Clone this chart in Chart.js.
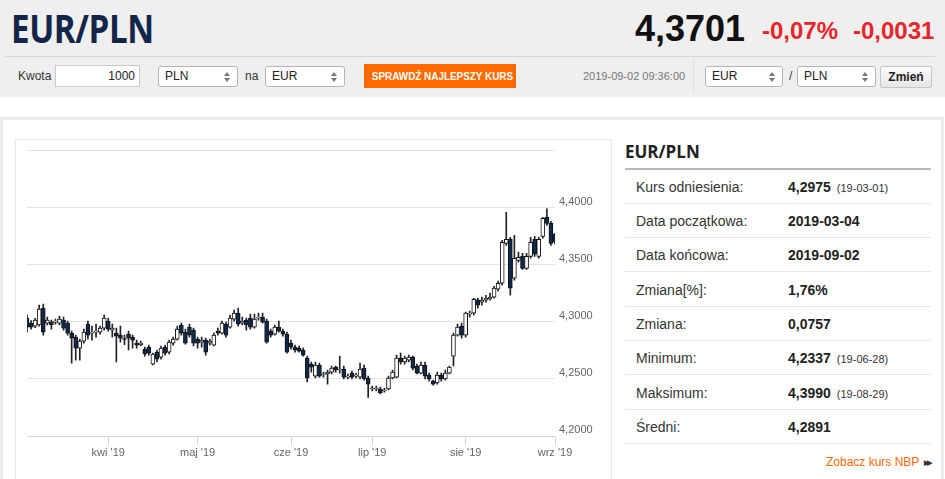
<!DOCTYPE html>
<html lang="pl">
<head>
<meta charset="utf-8">
<title>EUR/PLN</title>
<script src="https://cdn.jsdelivr.net/npm/chart.js@4.4.0/dist/chart.umd.min.js"></script>
<style>
  html, body { margin: 0; padding: 0; background: #fff; }
  body { width: 945px; height: 479px; overflow: hidden; position: relative; font-family: 'Liberation Sans', Arial, sans-serif; color: #333; }
  .abs { position: absolute; white-space: nowrap; }
  #band { left: 0; top: 0; width: 945px; height: 97px; background: #efefef; }
  #title { left: 11px; top: 5px; font: 700 39px/46px 'Open Sans', sans-serif; color: #13264a; transform: scaleX(0.85); transform-origin: left center; letter-spacing: -0.5px; }
  #rate { left: 635px; top: 9px; font: bold 36px/40px 'Liberation Sans', Arial, sans-serif; color: #111; }
  .chg { top: 17px; font: bold 24px/28px 'Liberation Sans', Arial, sans-serif; color: #e5262b; }
  #hline { left: 5px; top: 56px; width: 930px; height: 1px; background: #d6d6d6; }
  .lbl { font-size: 12px; line-height: 22px; color: #333; }
  .box { height: 22px; border: 1px solid #c8c8c8; background: #fff; box-sizing: border-box; font-size: 12px; line-height: 20px; color: #222; }
  .sel { height: 21px; border: 1px solid #b5b5b5; border-radius: 3px; background: #fff; box-sizing: border-box; font-size: 12px; line-height: 19px; padding-left: 6px; color: #222; }
  .sel::before, .sel::after { content: ''; position: absolute; right: 7px; border-left: 3px solid transparent; border-right: 3px solid transparent; }
  .sel::before { top: 5px; border-bottom: 4px solid #777; }
  .sel::after { top: 11px; border-top: 4px solid #777; }
  #btn { left: 364px; top: 64px; width: 152px; height: 24px; background: #ff6a00; color: #fff; font: bold 11px/24px 'Liberation Sans', Arial, sans-serif; text-align: center; }
  #btn span { display: inline-block; transform: scaleX(0.9); }
  #stamp { left: 583px; top: 66px; font-size: 11px; line-height: 20px; color: #777; }
  #vsep { left: 693px; top: 60px; width: 1px; height: 32px; background: #dcdcdc; }
  #zm { left: 880px; top: 66px; width: 52px; height: 22px; border: 1px solid #c6c6c6; border-radius: 2px; box-sizing: border-box; background: linear-gradient(#fbfbfb, #e6e6e6); font: bold 12px/20px 'Liberation Sans', Arial, sans-serif; text-align: center; color: #222; }
  #outer { left: 0; top: 117px; width: 938px; height: 400px; border: 3px solid #ececec; }
  #chartbox { left: 15px; top: 139px; width: 595px; height: 360px; border: 1px solid #e8e8e8; background: #fff; }
  #cwrap { left: 16px; top: 140px; width: 594px; height: 330px; }
  #side-h { left: 625px; top: 140px; font: bold 17px/24px 'Open Sans', sans-serif; color: #222; }
  #side-line { left: 625px; top: 168px; width: 306px; height: 2px; background: #b8b8b8; }
  .row { left: 625px; width: 306px; height: 34px; border-bottom: 1px solid #e6e6e6; box-sizing: border-box; font-size: 14px; line-height: 34px; }
  .row .k { position: absolute; left: 11px; color: #333; }
  .row .v { position: absolute; left: 163px; font-weight: bold; color: #222; }
  .row .d { font-size: 11px; font-weight: normal; margin-left: 6px; color: #333; }
  #nbp { left: 826px; top: 453px; font-size: 12px; line-height: 18px; color: #ff6a00; }
  #nbp b { color: #333; font-size: 7px; margin-left: 5px; letter-spacing: -2px; vertical-align: 1px; }
</style>
</head>
<body>
<div class="abs" id="band"></div>
<div class="abs" id="title">EUR/PLN</div>
<div class="abs" id="rate">4,3701</div>
<div class="abs chg" style="left:762px">-0,07%</div>
<div class="abs chg" style="left:853px">-0,0031</div>
<div class="abs" id="hline"></div>

<div class="abs lbl" style="left:18px;top:65px">Kwota</div>
<div class="abs box" style="left:55px;top:65px;width:85px;text-align:right;padding-right:4px">1000</div>
<div class="abs sel" style="left:158px;top:66px;width:80px">PLN</div>
<div class="abs lbl" style="left:245px;top:65px">na</div>
<div class="abs sel" style="left:265px;top:66px;width:80px">EUR</div>
<div class="abs" id="btn"><span>SPRAWDŹ NAJLEPSZY KURS</span></div>
<div class="abs" id="stamp">2019-09-02 09:36:00</div>
<div class="abs" id="vsep"></div>
<div class="abs sel" style="left:705px;top:66px;width:78px">EUR</div>
<div class="abs lbl" style="left:789px;top:65px">/</div>
<div class="abs sel" style="left:797px;top:66px;width:79px">PLN</div>
<div class="abs" id="zm">Zmień</div>

<div class="abs" id="outer"></div>
<div class="abs" id="chartbox"></div>
<div class="abs" id="cwrap"><canvas id="fxChart" width="594" height="330"></canvas></div>

<div class="abs" id="side-h">EUR/PLN</div>
<div class="abs" id="side-line"></div>
<div class="abs row" style="top:170px"><span class="k">Kurs odniesienia:</span><span class="v">4,2975<span class="d">(19-03-01)</span></span></div>
<div class="abs row" style="top:204px"><span class="k">Data początkowa:</span><span class="v">2019-03-04</span></div>
<div class="abs row" style="top:238px"><span class="k">Data końcowa:</span><span class="v">2019-09-02</span></div>
<div class="abs row" style="top:273px"><span class="k">Zmiana[%]:</span><span class="v">1,76%</span></div>
<div class="abs row" style="top:307px"><span class="k">Zmiana:</span><span class="v">0,0757</span></div>
<div class="abs row" style="top:341px"><span class="k">Minimum:</span><span class="v">4,2337<span class="d">(19-06-28)</span></span></div>
<div class="abs row" style="top:376px"><span class="k">Maksimum:</span><span class="v">4,3990<span class="d">(19-08-29)</span></span></div>
<div class="abs row" style="top:410px"><span class="k">Średni:</span><span class="v">4,2891</span></div>
<div class="abs" id="nbp">Zobacz kurs NBP<b>▶▶</b></div>

<script>
// EUR/PLN daily candles, 2019-03-04 .. 2019-09-02 (weekdays)
const startDate = '2019-03-04';
const endDate = '2019-09-02';
const monthLabels = ["kwi '19", "maj '19", "cze '19", "lip '19", "sie '19", "wrz '19"];
const yTicks = [4.2, 4.25, 4.3, 4.35, 4.4, 4.45];

const opens = [
  4.3032, 4.2989, 4.2963, 4.2972, 4.3120, 4.2989, 4.2997, 4.2997, 4.2989, 4.3015,
  4.2989, 4.2901, 4.2866, 4.2770, 4.2831, 4.2980, 4.2901, 4.2910, 4.2910, 4.2945,
  4.3006, 4.2927, 4.2901, 4.2884, 4.2849, 4.2892, 4.2866, 4.2814, 4.2800, 4.2761,
  4.2779, 4.2630, 4.2735, 4.2691, 4.2779, 4.2735, 4.2814, 4.2849, 4.2972, 4.2910,
  4.2954, 4.2927, 4.2849, 4.2822, 4.2840, 4.2814, 4.2796, 4.2919, 4.2901, 4.2980,
  4.2954, 4.3024, 4.3076, 4.2989, 4.3015, 4.3032, 4.2954, 4.3032, 4.3041, 4.3006,
  4.2919, 4.2892, 4.2954, 4.2919, 4.2892, 4.2814, 4.2779, 4.2770, 4.2753, 4.2683,
  4.2630, 4.2525, 4.2621, 4.2534, 4.2543, 4.2560, 4.2604, 4.2578, 4.2587, 4.2516,
  4.2551, 4.2525, 4.2516, 4.2595, 4.2508, 4.2412, 4.2412, 4.2412, 4.2394, 4.2412,
  4.2508, 4.2516, 4.2683, 4.2648, 4.2665, 4.2691, 4.2613, 4.2551, 4.2621, 4.2534,
  4.2481, 4.2464, 4.2534, 4.2499, 4.2551, 4.2700, 4.2884, 4.2963, 4.2884, 4.3067,
  4.3076, 4.3190, 4.3172, 4.3190, 4.3198, 4.3216, 4.3286, 4.3338, 4.3688, 4.3723,
  4.3382, 4.3539, 4.3574, 4.3469, 4.3574, 4.3723, 4.3574, 4.3749, 4.3915, 4.3863,
  4.3767
];
const highs = [
  4.3059, 4.3010, 4.3030, 4.3146, 4.3155, 4.3041, 4.3015, 4.3024, 4.3050, 4.3041,
  4.3006, 4.2919, 4.2884, 4.2849, 4.2936, 4.3006, 4.2963, 4.2980, 4.2963, 4.3059,
  4.3032, 4.2980, 4.2945, 4.2963, 4.2884, 4.2919, 4.2884, 4.2840, 4.2831, 4.2779,
  4.2796, 4.2726, 4.2753, 4.2788, 4.2796, 4.2840, 4.2866, 4.2963, 4.2989, 4.2936,
  4.2980, 4.2945, 4.2866, 4.2866, 4.2857, 4.2849, 4.2901, 4.2945, 4.3006, 4.2997,
  4.3059, 4.3102, 4.3120, 4.3041, 4.3032, 4.3067, 4.3067, 4.3076, 4.3076, 4.3024,
  4.2936, 4.2972, 4.3006, 4.2936, 4.2910, 4.2840, 4.2796, 4.2788, 4.2770, 4.2700,
  4.2648, 4.2648, 4.2639, 4.2560, 4.2578, 4.2613, 4.2613, 4.2700, 4.2613, 4.2543,
  4.2569, 4.2551, 4.2639, 4.2621, 4.2525, 4.2438, 4.2438, 4.2429, 4.2420, 4.2525,
  4.2578, 4.2709, 4.2726, 4.2700, 4.2709, 4.2700, 4.2630, 4.2648, 4.2648, 4.2551,
  4.2490, 4.2560, 4.2551, 4.2578, 4.2613, 4.2901, 4.2980, 4.2989, 4.3085, 4.3094,
  4.3207, 4.3207, 4.3216, 4.3233, 4.3251, 4.3312, 4.3356, 4.3714, 4.3959, 4.3740,
  4.3758, 4.3610, 4.3600, 4.3600, 4.3740, 4.3749, 4.3740, 4.3915, 4.3990, 4.3880,
  4.3775
];
const lows = [
  4.2910, 4.2936, 4.2950, 4.2963, 4.2884, 4.2972, 4.2936, 4.2980, 4.2972, 4.2927,
  4.2884, 4.2639, 4.2665, 4.2665, 4.2814, 4.2849, 4.2840, 4.2866, 4.2892, 4.2927,
  4.2919, 4.2866, 4.2648, 4.2822, 4.2800, 4.2753, 4.2770, 4.2770, 4.2788, 4.2700,
  4.2709, 4.2622, 4.2648, 4.2674, 4.2709, 4.2718, 4.2796, 4.2840, 4.2884, 4.2805,
  4.2866, 4.2788, 4.2770, 4.2779, 4.2709, 4.2796, 4.2788, 4.2884, 4.2892, 4.2866,
  4.2945, 4.3006, 4.2963, 4.2972, 4.2927, 4.2936, 4.2945, 4.3015, 4.2989, 4.2814,
  4.2866, 4.2884, 4.2910, 4.2875, 4.2726, 4.2761, 4.2735, 4.2735, 4.2700, 4.2473,
  4.2560, 4.2508, 4.2516, 4.2516, 4.2455, 4.2543, 4.2560, 4.2551, 4.2499, 4.2499,
  4.2499, 4.2508, 4.2499, 4.2490, 4.2337, 4.2394, 4.2394, 4.2368, 4.2385, 4.2403,
  4.2499, 4.2508, 4.2630, 4.2630, 4.2648, 4.2578, 4.2543, 4.2543, 4.2499, 4.2481,
  4.2446, 4.2455, 4.2481, 4.2490, 4.2543, 4.2613, 4.2875, 4.2857, 4.2866, 4.3041,
  4.3059, 4.3120, 4.3146, 4.3172, 4.3190, 4.3207, 4.3269, 4.3321, 4.3670, 4.3233,
  4.3365, 4.3522, 4.3460, 4.3460, 4.3557, 4.3574, 4.3557, 4.3732, 4.3845, 4.3670,
  4.3680
];
const closes = [
  4.2954, 4.2954, 4.3015, 4.3111, 4.2910, 4.3015, 4.2972, 4.3006, 4.3024, 4.2945,
  4.2901, 4.2857, 4.2770, 4.2831, 4.2910, 4.2884, 4.2910, 4.2919, 4.2945, 4.3032,
  4.2936, 4.2945, 4.2875, 4.2857, 4.2845, 4.2857, 4.2840, 4.2796, 4.2814, 4.2718,
  4.2726, 4.2718, 4.2674, 4.2770, 4.2726, 4.2822, 4.2849, 4.2936, 4.2901, 4.2814,
  4.2884, 4.2814, 4.2814, 4.2840, 4.2735, 4.2831, 4.2884, 4.2901, 4.2989, 4.2884,
  4.3032, 4.3076, 4.2980, 4.3006, 4.2972, 4.2954, 4.3024, 4.3041, 4.2997, 4.2822,
  4.2884, 4.2954, 4.2919, 4.2892, 4.2735, 4.2779, 4.2753, 4.2744, 4.2709, 4.2508,
  4.2604, 4.2621, 4.2525, 4.2543, 4.2560, 4.2595, 4.2578, 4.2587, 4.2516, 4.2525,
  4.2516, 4.2534, 4.2587, 4.2499, 4.2455, 4.2420, 4.2420, 4.2377, 4.2403, 4.2508,
  4.2560, 4.2683, 4.2648, 4.2683, 4.2691, 4.2595, 4.2551, 4.2621, 4.2525, 4.2499,
  4.2455, 4.2534, 4.2499, 4.2551, 4.2604, 4.2884, 4.2954, 4.2884, 4.3076, 4.3076,
  4.3198, 4.3146, 4.3190, 4.3207, 4.3216, 4.3295, 4.3338, 4.3697, 4.3723, 4.3295,
  4.3557, 4.3566, 4.3469, 4.3574, 4.3697, 4.3592, 4.3723, 4.3906, 4.3863, 4.3688,
  4.3701
];

// trading days (weekdays only)
const dates = [];
for (let d = new Date(startDate + 'T12:00:00Z'); d <= new Date(endDate + 'T12:00:00Z'); d.setUTCDate(d.getUTCDate() + 1)) {
  const wd = d.getUTCDay();
  if (wd !== 0 && wd !== 6) dates.push(d.toISOString().slice(0, 10));
}

// month tick labels at first trading day of each new month
const tickAt = {};
let m = 0;
dates.forEach((dt, i) => {
  if (i > 0 && dt.slice(5, 7) !== dates[i - 1].slice(5, 7)) tickAt[i] = monthLabels[m++];
});

const UP = '#ffffff';
const DOWN = '#0e2a4e';

const bodies = opens.map((o, i) => [Math.min(o, closes[i]), Math.max(o, closes[i])]);
const wicks = lows.map((l, i) => [l, highs[i]]);
const bodyColors = opens.map((o, i) => closes[i] >= o ? UP : DOWN);

const ctx = document.getElementById('fxChart').getContext('2d');
const fxChart = new Chart(ctx, {
  type: 'bar',
  data: {
    labels: dates,
    datasets: [{
      label: 'body',
      data: bodies,
      backgroundColor: bodyColors,
      borderColor: '#111',
      borderWidth: 1,
      borderSkipped: false,
      barThickness: 4,
      minBarLength: 1,
      grouped: false,
      order: 1
    }, {
      label: 'wick',
      data: wicks,
      backgroundColor: '#222',
      borderWidth: 0,
      barThickness: 1,
      grouped: false,
      order: 2
    }]
  },
  options: {
    responsive: false,
    animation: false,
    events: [],
    layout: { padding: { left: 11, top: 9, right: 0, bottom: 0 } },
    plugins: {
      legend: { display: false },
      tooltip: { enabled: false }
    },
    scales: {
      x: {
        offset: false,
        grid: { offset: false, drawOnChartArea: false, color: '#ccd6eb', tickLength: 9 },
        border: { color: '#ccd6eb' },
        ticks: {
          autoSkip: false,
          maxRotation: 0,
          padding: 1,
          color: '#666',
          font: { size: 11, family: "'Liberation Sans', Arial, sans-serif" },
          callback: (v, i) => tickAt[i] !== undefined ? tickAt[i] : null
        },
        afterFit: (scale) => { scale.height = 34; }
      },
      y: {
        position: 'right',
        min: yTicks[0],
        max: yTicks[yTicks.length - 1],
        afterBuildTicks: (scale) => { scale.ticks = yTicks.map(v => ({ value: v })); },
        grid: {
          drawTicks: false,
          color: (c) => c.tick && c.tick.value <= yTicks[0] ? 'rgba(0,0,0,0)' : '#e3e3e3'
        },
        border: { display: false },
        ticks: {
          padding: 4,
          labelOffset: -6,
          color: '#666',
          font: { size: 11, family: "'Liberation Sans', Arial, sans-serif" },
          callback: (v) => v > 4.41 ? '' : v.toFixed(4).replace('.', ',')
        },
        afterFit: (scale) => { scale.width = 55; }
      }
    }
  }
});
</script>
</body>
</html>
